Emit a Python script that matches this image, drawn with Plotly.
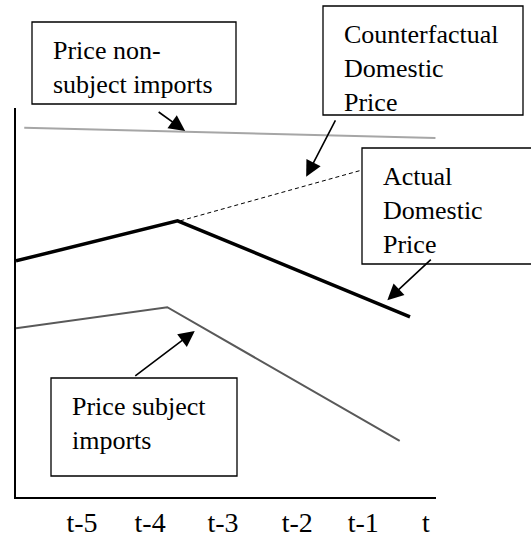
import plotly.graph_objects as go

# periods on the horizontal axis (tick positions)
periods = ["t-5", "t-4", "t-3", "t-2", "t-1", "t"]
period_pos = [0.96, 1.95, 3.01, 4.09, 5.05, 5.96]

# price paths (schematic index values)
nonsubj_x = [0.12, 6.10]
nonsubj_y = [94.9, 92.3]

actual_x = [0.0, 2.35, 5.73]
actual_y = [60.7, 71.0, 46.3]

counter_x = [2.39, 5.73]
counter_y = [71.0, 87.5]

subj_x = [0.0, 2.20, 5.58]
subj_y = [43.4, 48.8, 14.4]

W, H = 531, 549
serif = "Liberation Serif"

fig = go.Figure()
fig.add_trace(go.Scatter(x=nonsubj_x, y=nonsubj_y, mode="lines",
                         line=dict(color="#a6a6a6", width=2)))
fig.add_trace(go.Scatter(x=counter_x, y=counter_y, mode="lines",
                         line=dict(color="black", width=1, dash="4px,3px")))
fig.add_trace(go.Scatter(x=actual_x, y=actual_y, mode="lines",
                         line=dict(color="black", width=3.5)))
fig.add_trace(go.Scatter(x=subj_x, y=subj_y, mode="lines",
                         line=dict(color="#595959", width=2)))

# label boxes: (left, top, right, bottom) in pixels, text
boxes = [
    ((32, 22, 236, 104), "Price non-<br>subject imports"),
    ((323, 6, 523, 115), "Counterfactual<br>Domestic<br>Price"),
    ((362, 148, 536, 264), "Actual<br>Domestic<br>Price"),
    ((51, 378, 237, 476), "Price subject<br>imports"),
]
for (l, t, r, b), txt in boxes:
    fig.add_shape(type="rect", xref="paper", yref="paper",
                  x0=l / W, x1=r / W, y0=1 - t / H, y1=1 - b / H,
                  line=dict(color="black", width=1.3), fillcolor="white",
                  layer="above")
    fig.add_annotation(xref="paper", yref="paper", x=(l + 19) / W, y=1 - (t + 12) / H,
                       xanchor="left", yanchor="top", align="left", showarrow=False,
                       text=txt, font=dict(family=serif, size=26, color="black"))

# arrows: head in data units, tail offset in px
arrows = [
    (2.46, 94.1, -28, -20),
    (4.22, 82.3, 30, -58),
    (5.40, 50.6, 45, -42),
    (2.60, 42.7, -61, 46),
]
for x, y, ax, ay in arrows:
    fig.add_annotation(x=x, y=y, ax=ax, ay=ay, text="", showarrow=True,
                       arrowhead=2, arrowsize=2, arrowwidth=1.6, arrowcolor="black")

fig.update_xaxes(range=[0, 6.108], domain=[16 / W, 436 / W], showgrid=False,
                 zeroline=False, showline=True, linecolor="black", linewidth=1.5,
                 tickvals=period_pos, ticktext=periods, ticks="",
                 tickfont=dict(family=serif, size=28, color="black"))
fig.update_yaxes(range=[0, 100], domain=[52 / H, 1 - 108 / H], showgrid=False,
                 zeroline=False, showline=True, linecolor="black", linewidth=1.5,
                 showticklabels=False)
fig.update_layout(width=W, height=H, margin=dict(l=0, r=0, t=0, b=0),
                  plot_bgcolor="white", paper_bgcolor="white", showlegend=False)

fig.write_html("out.html", config={"displayModeBar": False},
               post_script="document.body.style.margin='0';")
